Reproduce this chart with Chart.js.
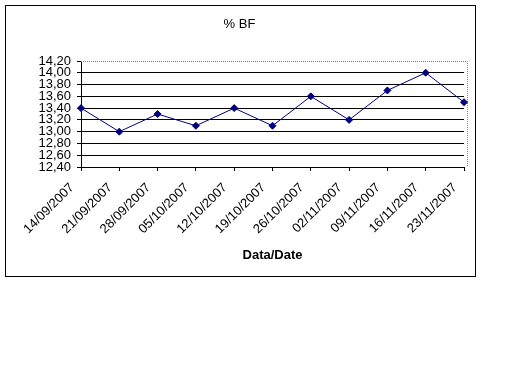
<!DOCTYPE html>
<html>
<head>
<meta charset="utf-8">
<script src="https://cdn.jsdelivr.net/npm/chart.js@4"></script>
<style>
html,body{margin:0;padding:0;background:#fff;}
canvas{display:block;}
</style>
</head>
<body>
<canvas id="c" width="512" height="384"></canvas>
<script>
const categories = ["14/09/2007","21/09/2007","28/09/2007","05/10/2007","12/10/2007","19/10/2007","26/10/2007","02/11/2007","09/11/2007","16/11/2007","23/11/2007"];
const bfValues = [13.40, 13.00, 13.30, 13.10, 13.40, 13.10, 13.60, 13.20, 13.70, 14.00, 13.50];
const yTickValues = [12.40, 12.60, 12.80, 13.00, 13.20, 13.40, 13.60, 13.80, 14.00, 14.20];
const yTickLabels = ["12,40","12,60","12,80","13,00","13,20","13,40","13,60","13,80","14,00","14,20"];

const FONT = "'Liberation Sans', Arial, sans-serif";

const framePlugin = {
  id: 'frame',
  beforeDraw(chart) {
    const ctx = chart.ctx;
    ctx.save();
    ctx.fillStyle = '#fff';
    ctx.fillRect(0, 0, chart.width, chart.height);
    ctx.strokeStyle = '#000';
    ctx.lineWidth = 1;
    ctx.strokeRect(5.5, 5.5, 470, 271);
    ctx.restore();
  },
  beforeDatasetsDraw(chart) {
    const a = chart.chartArea;
    const ctx = chart.ctx;
    ctx.save();
    ctx.strokeStyle = '#808080';
    ctx.lineWidth = 1;
    ctx.setLineDash([1, 1]);
    const r = Math.round(a.right) + 3.5;
    const t = Math.round(a.top) + 0.5;
    ctx.beginPath();
    ctx.moveTo(a.left, t);
    ctx.lineTo(r, t);
    ctx.lineTo(r, a.bottom);
    ctx.stroke();
    ctx.restore();
  }
};

new Chart(document.getElementById('c'), {
  type: 'line',
  data: {
    labels: categories,
    datasets: [{
      data: bfValues,
      borderColor: '#000080',
      backgroundColor: '#000080',
      borderWidth: 1,
      tension: 0,
      pointStyle: 'rectRot',
      pointRadius: 3.5,
      pointBorderWidth: 1,
      pointBackgroundColor: '#000080',
      pointBorderColor: '#000080'
    }]
  },
  options: {
    responsive: false,
    animation: false,
    devicePixelRatio: 1,
    layout: { padding: { left: 15, right: 48, top: 0, bottom: 117 } },
    plugins: {
      legend: { display: false },
      tooltip: { enabled: false },
      title: {
        display: true,
        text: '% BF',
        color: '#000',
        font: { family: FONT, size: 13, weight: 'normal', lineHeight: 1.2 },
        padding: { top: 16.5, bottom: 28.9 }
      }
    },
    scales: {
      x: {
        offset: false,
        afterFit(scale) { scale.height = 100; },
        grid: { drawOnChartArea: false, drawTicks: true, tickLength: 4, tickColor: '#000' },
        border: { color: '#000', width: 1 },
        ticks: {
          color: '#000',
          font: { family: FONT, size: 13 },
          minRotation: 45,
          maxRotation: 45,
          autoSkip: false,
          padding: 9,
          labelOffset: -9
        },
        title: {
          display: true,
          text: 'Data/Date',
          color: '#000',
          font: { family: FONT, size: 13, weight: 'bold', lineHeight: 1.2 },
          padding: { top: 0, bottom: 4 }
        }
      },
      y: {
        min: yTickValues[0],
        max: yTickValues[yTickValues.length - 1],
        afterFit(scale) { scale.width = 66; },
        afterBuildTicks(scale) { scale.ticks = yTickValues.map(v => ({ value: v })); },
        grid: {
          color: (c) => (c.index === yTickValues.length - 1 ? 'rgba(0,0,0,0)' : '#000'),
          tickColor: '#000',
          tickLength: 4,
          lineWidth: 1
        },
        border: { color: '#000', width: 1 },
        ticks: {
          color: '#000',
          font: { family: FONT, size: 13 },
          padding: 6,
          autoSkip: false,
          callback: (v, i) => yTickLabels[i]
        }
      }
    }
  },
  plugins: [framePlugin]
});
</script>
</body>
</html>
